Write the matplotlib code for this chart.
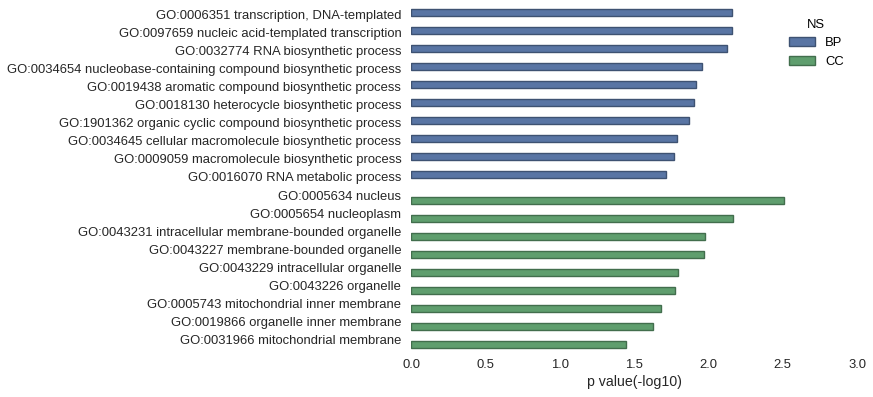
import matplotlib
matplotlib.use("Agg")
import matplotlib.pyplot as plt
import numpy as np
from matplotlib.patches import Patch

plt.rcParams['font.family'] = ['Liberation Sans', 'DejaVu Sans']

bp_terms = [
    "GO:0006351 transcription, DNA-templated",
    "GO:0097659 nucleic acid-templated transcription",
    "GO:0032774 RNA biosynthetic process",
    "GO:0034654 nucleobase-containing compound biosynthetic process",
    "GO:0019438 aromatic compound biosynthetic process",
    "GO:0018130 heterocycle biosynthetic process",
    "GO:1901362 organic cyclic compound biosynthetic process",
    "GO:0034645 cellular macromolecule biosynthetic process",
    "GO:0009059 macromolecule biosynthetic process",
    "GO:0016070 RNA metabolic process",
]
bp_values = [2.16, 2.16, 2.125, 1.955, 1.917, 1.904, 1.870, 1.789, 1.769, 1.715]

cc_terms = [
    "GO:0005634 nucleus",
    "GO:0005654 nucleoplasm",
    "GO:0043231 intracellular membrane-bounded organelle",
    "GO:0043227 membrane-bounded organelle",
    "GO:0043229 intracellular organelle",
    "GO:0043226 organelle",
    "GO:0005743 mitochondrial inner membrane",
    "GO:0019866 organelle inner membrane",
    "GO:0031966 mitochondrial membrane",
]
cc_values = [2.507, 2.164, 1.975, 1.971, 1.794, 1.776, 1.679, 1.628, 1.444]

ns_names = ["BP", "CC"]
ns_colors = ["#5975a4", "#5f9e6e"]
ns_edges = ["#3e5272", "#426e4d"]
x_ticks = [0.0, 0.5, 1.0, 1.5, 2.0, 2.5, 3.0]

fig = plt.figure(figsize=(8.73, 3.97), dpi=100)
ax = fig.add_axes([0.4708, 0.1184, 0.5109, 0.864])

terms = bp_terms + cc_terms
pos = np.arange(len(terms))
h = 0.4
bp_pos = pos[:len(bp_terms)] - h / 2
cc_pos = pos[len(bp_terms):] + h / 2
ax.barh(bp_pos, bp_values, height=h, color=ns_colors[0], edgecolor=ns_edges[0], linewidth=1)
ax.barh(cc_pos, cc_values, height=h, color=ns_colors[1], edgecolor=ns_edges[1], linewidth=1)

fs = 9.4
ax.set_yticks(pos)
ax.set_yticklabels(terms, fontsize=fs, color="#262626", va="center")
ax.set_ylim(len(terms) - 0.5, -0.5)
ax.set_xlim(0, 3.0)
ax.set_xticks(x_ticks)
ax.set_xticklabels([f"{t:.1f}" for t in x_ticks], fontsize=fs, color="#262626")
ax.tick_params(length=0)
ax.tick_params(axis='y', pad=7)
ax.tick_params(axis='x', pad=6.5)
ax.set_xlabel("p value(-log10)", fontsize=10.2, color="#262626", labelpad=3)
for s in ax.spines.values():
    s.set_visible(False)

handles = [Patch(facecolor=c, edgecolor=e, linewidth=1, label=n) for n, c, e in zip(ns_names, ns_colors, ns_edges)]
leg = ax.legend(handles=handles, title="NS", loc="upper right", frameon=False,
                fontsize=fs, title_fontsize=fs, bbox_to_anchor=(0.997, 1.0),
                handletextpad=0.8)

fig.savefig("out.png", dpi=100)
